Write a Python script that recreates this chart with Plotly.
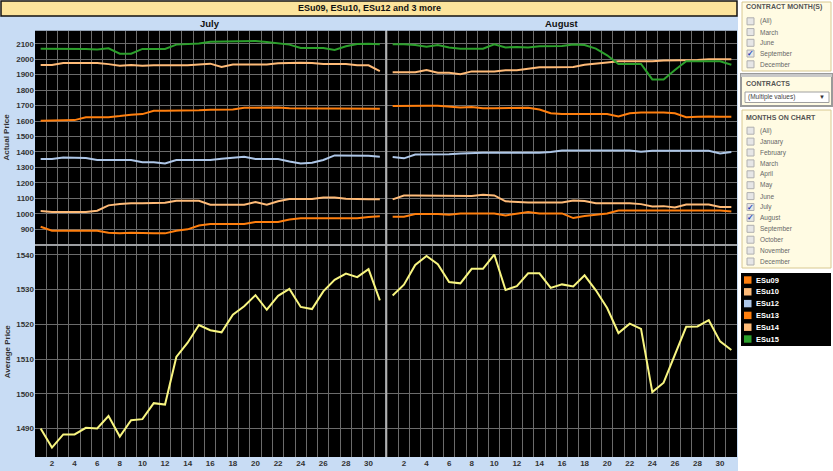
import plotly.graph_objects as go
from plotly.subplots import make_subplots

# ---- data ----
days = list(range(1, 32))
month_panels = ["July", "August"]

contracts = ["ESu09", "ESu10", "ESu12", "ESu13", "ESu14", "ESu15"]
contract_colors = ["#FF7F0E", "#FFBB78", "#AEC7E8", "#FF7F0E", "#FFBB78", "#2CA02C"]

# actual price, July
esu09_jul = [917, 891, 891, 891, 891, 891, 878, 874, 878, 874, 874, 874, 891, 900, 925, 934,
             934, 934, 934, 947, 947, 947, 964, 971, 971, 971, 971, 971, 971, 979, 984]
esu10_jul = [1018, 1012, 1012, 1012, 1012, 1020, 1055, 1063, 1068, 1068, 1068, 1072, 1085, 1085, 1085, 1059,
             1059, 1059, 1059, 1076, 1059, 1081, 1096, 1096, 1096, 1106, 1106, 1098, 1094, 1094, 1094]
esu12_jul = [1354, 1354, 1365, 1365, 1361, 1348, 1348, 1348, 1348, 1333, 1333, 1326, 1348, 1348, 1348, 1348,
             1356, 1363, 1369, 1354, 1354, 1354, 1339, 1326, 1330, 1348, 1378, 1378, 1378, 1376, 1369]
esu13_jul = [1602, 1604, 1605, 1606, 1624, 1625, 1625, 1632, 1641, 1645, 1667, 1667, 1667, 1668, 1670, 1673,
             1672, 1675, 1686, 1687, 1687, 1687, 1683, 1681, 1681, 1681, 1681, 1681, 1680, 1681, 1680]
esu14_jul = [1962, 1962, 1975, 1975, 1975, 1975, 1968, 1958, 1962, 1958, 1960, 1960, 1960, 1960, 1966, 1971,
             1949, 1966, 1966, 1966, 1966, 1973, 1977, 1977, 1975, 1968, 1968, 1968, 1960, 1960, 1923]
esu15_jul = [2068, 2068, 2068, 2068, 2066, 2063, 2070, 2035, 2035, 2066, 2066, 2066, 2094, 2100, 2102, 2113,
             2115, 2115, 2115, 2117, 2111, 2104, 2094, 2072, 2072, 2072, 2059, 2083, 2098, 2100, 2096]

# actual price, August
esu09_aug = [981, 981, 999, 1001, 999, 994, 1003, 1003, 1003, 1003, 990, 999, 1012, 1003, 1003, 1003,
             973, 986, 994, 1003, 1022, 1022, 1022, 1022, 1022, 1022, 1022, 1022, 1022, 1022, 1016]
esu10_aug = [1094, 1119, 1119, 1119, 1117, 1115, 1115, 1115, 1124, 1119, 1081, 1076, 1074, 1074, 1074, 1074,
             1087, 1083, 1068, 1068, 1068, 1068, 1063, 1048, 1050, 1042, 1061, 1061, 1061, 1044, 1044]
esu12_aug = [1367, 1359, 1384, 1384, 1384, 1386, 1391, 1395, 1395, 1395, 1395, 1395, 1395, 1395, 1400, 1410,
             1410, 1410, 1410, 1410, 1410, 1410, 1402, 1408, 1408, 1408, 1408, 1408, 1408, 1391, 1400]
esu13_aug = [1697, 1699, 1699, 1699, 1699, 1693, 1688, 1690, 1682, 1682, 1682, 1682, 1686, 1675, 1650, 1645,
             1645, 1645, 1643, 1645, 1630, 1650, 1656, 1656, 1656, 1650, 1625, 1627, 1630, 1628, 1628]
esu14_aug = [1915, 1915, 1915, 1930, 1912, 1912, 1902, 1921, 1921, 1921, 1928, 1928, 1938, 1947, 1947, 1947,
             1949, 1964, 1973, 1979, 1986, 1986, 1986, 1986, 1992, 1992, 1994, 1994, 1999, 1999, 1999]
esu15_aug = [2096, 2096, 2091, 2081, 2091, 2076, 2068, 2068, 2068, 2096, 2076, 2078, 2076, 2083, 2083, 2085,
             2094, 2092, 2068, 2025, 1969, 1969, 1969, 1869, 1869, 1930, 1986, 1986, 1986, 1986, 1964]

# average price
avg_jul = [1490.0, 1484.5, 1488.3, 1488.3, 1490.2, 1490.0, 1493.6, 1487.7, 1492.4, 1492.7, 1497.3,
           1496.9, 1510.6, 1514.7, 1519.8, 1518.3, 1517.7, 1522.8, 1525.2, 1528.4, 1524.2, 1528.2,
           1530.2, 1525.0, 1524.4, 1529.5, 1532.8, 1534.6, 1533.6, 1535.9, 1526.9]
avg_aug = [1528.3, 1531.4, 1537.1, 1539.7, 1537.3, 1532.2, 1531.8, 1536.0, 1536.0, 1540.1, 1529.9,
           1531.0, 1534.7, 1534.7, 1530.5, 1531.5, 1530.9, 1534.1, 1529.8, 1524.7, 1517.5, 1520.2,
           1518.7, 1500.5, 1503.2, 1511.4, 1519.3, 1519.4, 1521.2, 1515.1, 1512.6]

actual_ticks = list(range(900, 2101, 100))
average_ticks = [1490, 1500, 1510, 1520, 1530, 1540]
day_ticks = list(range(2, 31, 2))

# filter cards on the right
contract_months = ["(All)", "March", "June", "September", "December"]
contract_months_checked = ["September"]
chart_months = ["(All)", "January", "February", "March", "April", "May", "June", "July",
                "August", "September", "October", "November", "December"]
chart_months_checked = ["July", "August"]

title_text = "ESu09, ESu10, ESu12 and 3 more"

# ---- helpers: pixel -> paper coords ----
W, H = 833, 471
FONT = "Liberation Sans"


def px(x):
    return x / W


def py(y):
    return 1 - y / H


shapes = []
annotations = []


def rect(x0, y0, x1, y1, fill, line=None, width=1, layer="below"):
    shapes.append(dict(type="rect", xref="paper", yref="paper",
                       x0=px(x0), x1=px(x1), y0=py(y1), y1=py(y0),
                       fillcolor=fill, layer=layer,
                       line=dict(color=line if line else fill, width=width if line else 0)))


def text(x, y, s, size=8, color="#333", bold=False, xanchor="left", angle=0):
    annotations.append(dict(xref="paper", yref="paper", x=px(x), y=py(y), text=s,
                            showarrow=False, xanchor=xanchor, yanchor="middle", textangle=angle,
                            borderpad=0,
                            font=dict(family=FONT, size=size, color=color,
                                      weight="bold" if bold else "normal")))


# ---- figure ----
fig = make_subplots(rows=2, cols=2)

jul_series = [esu09_jul, esu10_jul, esu12_jul, esu13_jul, esu14_jul, esu15_jul]
aug_series = [esu09_aug, esu10_aug, esu12_aug, esu13_aug, esu14_aug, esu15_aug]

for name, color, jul, aug in zip(contracts, contract_colors, jul_series, aug_series):
    fig.add_trace(go.Scatter(x=days, y=jul, mode="lines", name=name,
                             line=dict(color=color, width=2)), row=1, col=1)
    fig.add_trace(go.Scatter(x=days, y=aug, mode="lines", name=name,
                             line=dict(color=color, width=2)), row=1, col=2)

fig.add_trace(go.Scatter(x=days, y=avg_jul, mode="lines", name="Average",
                         line=dict(color="#F8F580", width=2)), row=2, col=1)
fig.add_trace(go.Scatter(x=days, y=avg_aug, mode="lines", name="Average",
                         line=dict(color="#F8F580", width=2)), row=2, col=2)

# panel positions in pixels
jul_x = (35, 385.5)
aug_x = (387, 737)
top_y = (30.7, 244.5)
bot_y = (245.5, 457)

grid_color = "#6b6b6b"
tick_font = dict(family=FONT, size=8, color="#333", weight="bold")

xaxis_common = dict(range=[0.5, 31.5], tickvals=day_ticks, showgrid=False, zeroline=False,
                    ticks="", tickfont=tick_font, showline=False,
                    minor=dict(tickmode="linear", tick0=0.5, dtick=1, showgrid=True,
                               gridcolor=grid_color, gridwidth=1))

layout_axes = {}
for name, xd, labels in [("xaxis", jul_x, False), ("xaxis2", aug_x, False),
                         ("xaxis3", jul_x, True), ("xaxis4", aug_x, True)]:
    ax = dict(xaxis_common)
    ax["domain"] = [px(xd[0]), px(xd[1])]
    ax["showticklabels"] = labels
    layout_axes[name] = ax

for name, yd, rng, tv, labels in [
        ("yaxis", top_y, [802, 2184], actual_ticks, True),
        ("yaxis2", top_y, [802, 2184], actual_ticks, False),
        ("yaxis3", bot_y, [1481.8, 1542.7], average_ticks, True),
        ("yaxis4", bot_y, [1481.8, 1542.7], average_ticks, False)]:
    layout_axes[name] = dict(domain=[py(yd[1]), py(yd[0])], range=rng, tickvals=tv,
                             showticklabels=labels, showgrid=True, gridcolor=grid_color,
                             gridwidth=1, zeroline=False, ticks="", tickfont=tick_font)

# background areas (the plot areas are black boxes on the blue frame)
rect(0, 16, 738, 471, "#C8DCF4")
for xd in (jul_x, aug_x):
    for yd in (top_y, bot_y):
        rect(xd[0], yd[0], xd[1], yd[1], "#000000")
rect(1, 1, 737, 16, "#FCE49C", line="#111", width=1.5, layer="above")
text(369, 8.5, title_text, size=9, color="#111", bold=True, xanchor="center")
text((jul_x[0] + jul_x[1]) / 2, 23.5, month_panels[0], size=9.5, color="#111", bold=True, xanchor="center")
text((aug_x[0] + aug_x[1]) / 2, 23.5, month_panels[1], size=9.5, color="#111", bold=True, xanchor="center")
text(7, (top_y[0] + top_y[1]) / 2, "Actual Price", size=8, color="#333", bold=True, xanchor="center", angle=-90)
text(7, (bot_y[0] + bot_y[1]) / 2, "Average Price", size=8, color="#333", bold=True, xanchor="center", angle=-90)

# panel dividers
shapes.append(dict(type="line", xref="paper", yref="paper", x0=px(386.3), x1=px(386.3),
                   y0=py(457), y1=py(30.7), line=dict(color="#b0b0b0", width=2), layer="above"))
shapes.append(dict(type="line", xref="paper", yref="paper", x0=px(35), x1=px(737),
                   y0=py(245), y1=py(245), line=dict(color="#b0b0b0", width=1.5), layer="above"))

# filter card: contract months
card_fill = "#FFFBE3"
card_line = "#D8C890"
rect(742, 2, 831, 71, card_fill, line=card_line)
text(745, 7.5, "CONTRACT MONTH(S)", size=7, color="#555", bold=True)
for i, m in enumerate(contract_months):
    yy = 21.3 + i * 10.75
    rect(747, yy - 3.5, 754, yy + 3.5, "#E6E6E6", line="#B0B0B0")
    if m in contract_months_checked:
        text(750.5, yy, "✓", size=8, color="#2343B8", bold=True, xanchor="center")
    text(759, yy, m, size=6.5, color="#666")

# filter card: contracts dropdown
rect(741, 74, 832, 106, card_fill, line="#9a9a9a", width=2)
rect(741, 74, 832, 77, "#C8C8C8")
text(745, 84, "CONTRACTS", size=7, color="#555", bold=True)
rect(745, 92, 829, 102.5, "#FFFFFF", line="#A0A0A0")
text(747, 97.3, "(Multiple values)", size=6.5, color="#444")
text(822, 97.3, "▼", size=6, color="#333", xanchor="center")

# filter card: months on chart
rect(742, 110, 831, 268, card_fill, line=card_line)
text(745, 117.3, "MONTHS ON CHART", size=7, color="#555", bold=True)
for i, m in enumerate(chart_months):
    yy = 130.7 + i * 10.9
    rect(747, yy - 3.5, 754, yy + 3.5, "#E6E6E6", line="#B0B0B0")
    if m in chart_months_checked:
        text(750.5, yy, "✓", size=8, color="#2343B8", bold=True, xanchor="center")
    text(759, yy, m, size=6.5, color="#666")

# colour legend
rect(741, 273, 831, 346, "#000000")
for i, (name, color) in enumerate(zip(contracts, contract_colors)):
    yy = 280 + i * 11.8
    rect(744, yy - 3.7, 751.5, yy + 3.7, color, layer="above")
    text(755, yy, name, size=7.5, color="#FFFFFF", bold=True)

fig.update_layout(
    width=W, height=H,
    margin=dict(l=0, r=0, t=0, b=0),
    paper_bgcolor="#FFFFFF",
    plot_bgcolor="rgba(0,0,0,0)",
    showlegend=False,
    shapes=shapes,
    annotations=annotations,
    **layout_axes,
)

# the page has a default 8px body margin; drop it so the figure sits at the window corner
fig.write_html("out.html", config={"displayModeBar": False},
               post_script="document.body.style.margin='0px'; document.body.style.overflow='hidden';")
